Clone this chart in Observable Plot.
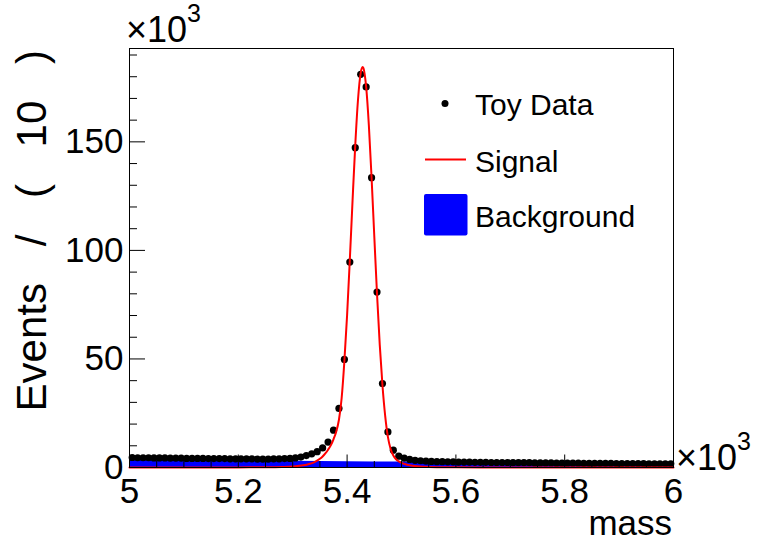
<!DOCTYPE html>
<html><head><meta charset="utf-8">
<script src="https://cdn.jsdelivr.net/npm/d3@7"></script>
<script src="https://cdn.jsdelivr.net/npm/@observablehq/plot@0.6"></script>
<style>
body{margin:0;background:#fff;}
#wrap{position:relative;width:763px;height:550px;}
</style></head><body><div id="wrap"></div>
<script>
// mass in units of 10^3, events in units of 10^3
const binStart = 5.005, binWidth = 0.01;
const toyData = [
  4.6,4.5,4.5,4.5,4.4,4.4,4.4,4.3,4.3,4.3,
  4.2,4.2,4.2,4.2,4.1,4.1,4.1,4.1,4.0,4.0,
  4.0,4.0,4.0,3.9,3.9,3.9,4.0,4.0,4.1,4.2,
  4.4,4.8,5.5,6.3,7.3,9.0,11.7,17.2,27.2,49.8,
  94.6,147.3,181.1,175.3,133.5,80.8,38.7,16.4,8.0,5.2,
  4.3,3.7,3.3,3.1,2.9,2.8,2.7,2.7,2.6,2.6,
  2.5,2.5,2.5,2.4,2.4,2.4,2.3,2.3,2.3,2.3,
  2.2,2.2,2.2,2.2,2.1,2.1,2.1,2.1,2.0,2.0,
  2.0,2.0,2.0,1.9,1.9,1.9,1.9,1.9,1.9,1.8,
  1.8,1.8,1.8,1.8,1.8,1.7,1.7,1.7,1.7,1.7
];
const signalMass = [5.0,5.1,5.2,5.25,5.28,5.3,5.32,5.33,5.34,5.35,5.355,5.36,5.365,5.37,5.375,5.38,5.385,5.39,5.395,5.4,5.405,5.41,5.415,5.42,5.425,5.4285,5.43,5.435,5.44,5.445,5.45,5.455,5.46,5.465,5.47,5.475,5.48,5.485,5.49,5.495,5.5,5.51,5.52,5.54,5.57,5.6,5.7,6.0];
const signalVals = [0,0.01,0.05,0.12,0.25,0.45,1.0,1.6,2.5,4.0,5.1,6.5,8.2,10.2,13.0,16.5,22.0,32.0,49.0,70.2,95.7,122.8,148.5,169.3,181.8,184.5,184.0,175.4,157.6,133.4,106.4,79.9,56.6,37.9,23.8,14.1,8.5,5.5,3.8,2.8,2.1,1.3,0.8,0.35,0.15,0.08,0.02,0];
const bkgMass = [5.0,5.1,5.2,5.3,5.4,5.5,5.6,5.7,5.8,5.9,6.0];
const bkgVals = [3.45,3.23,3.03,2.84,2.67,2.50,2.35,2.20,2.07,1.94,1.82];
const xTicks = [5,5.2,5.4,5.6,5.8,6];
const xMinor = [5.05,5.1,5.15,5.25,5.3,5.35,5.45,5.5,5.55,5.65,5.7,5.75,5.85,5.9,5.95];
const yTicks = [0,50,100,150];
const yMinor = [10,20,30,40,60,70,80,90,110,120,130,140,160,170,180,190];
const legendLabels = ["Toy Data","Signal","Background"];

const FONT = "'Liberation Sans', Arial, Helvetica, sans-serif";
const data = toyData.map((n,i)=>({mass: binStart + i*binWidth, n}));
const sig = signalMass.map((m,i)=>({mass:m, n:signalVals[i]}));
const bkg = bkgMass.map((m,i)=>({mass:m, n:bkgVals[i]}));

const plot = Plot.plot({
  width:763, height:550,
  marginLeft:129, marginRight:90, marginTop:48, marginBottom:83,
  x:{domain:[5,6]}, y:{domain:[0,193]},
  style:{fontFamily:FONT, background:"white", color:"black"},
  marks:[
    Plot.areaY(bkg,{x:"mass",y:"n",fill:"#0000ff",curve:"monotone-x"}),
    Plot.dot(data,{x:"mass",y:"n",r:3.6,fill:"black",stroke:"none"}),
    Plot.line(sig,{x:"mass",y:"n",stroke:"#ff0000",strokeWidth:2,curve:"monotone-x"}),
    Plot.frame({stroke:"black",strokeWidth:1}),
    Plot.axisY(yTicks,{anchor:"left",tickSize:-16,tickFormat:()=>"",label:null}),
    Plot.axisY(yMinor,{anchor:"left",tickSize:-8,tickFormat:()=>"",label:null}),
    Plot.axisY(yTicks,{anchor:"left",tickSize:0,tickPadding:6,fontSize:35,label:null}),
    Plot.axisX(xTicks,{anchor:"bottom",tickSize:-12.5,tickFormat:()=>"",label:null}),
    Plot.axisX(xMinor,{anchor:"bottom",tickSize:-6,tickFormat:()=>"",label:null}),
    Plot.axisX(xTicks,{anchor:"bottom",tickSize:0,tickPadding:11,fontSize:35,label:null,tickFormat:d=>String(d)})
  ]
});
document.getElementById("wrap").appendChild(plot);

const svg = d3.select(plot);
// axis titles
svg.append("text").attr("transform","translate(46,50) rotate(-90)")
  .attr("text-anchor","end").attr("font-size",42).attr("font-family",FONT)
  .style("word-spacing","25px").style("white-space","pre")
  .text("Events / ( 10 )");
svg.append("text").attr("x",672).attr("y",535).attr("text-anchor","end")
  .attr("font-size",35).attr("font-family",FONT).text("mass");
// exponent labels
function expo(x,y,sup){
  const t = svg.append("text").attr("x",x).attr("y",y).attr("text-anchor","start")
    .attr("font-size",36).attr("font-family",FONT);
  t.append("tspan").text("\u00d710");
  t.append("tspan").attr("dy",sup).attr("font-size",25).text("3");
}
expo(126,42,-20);
expo(676,470,-20);
// legend
const lg = svg.append("g").attr("font-family",FONT).attr("font-size",30).attr("text-anchor","start");
lg.append("circle").attr("cx",445).attr("cy",103.5).attr("r",3.5).attr("fill","black");
lg.append("line").attr("x1",425).attr("x2",466).attr("y1",159.5).attr("y2",159.5).attr("stroke","#ff0000").attr("stroke-width",2);
lg.append("rect").attr("x",424).attr("y",194).attr("width",43.5).attr("height",41.5).attr("rx",2).attr("fill","#0000ff");
lg.append("text").attr("x",475).attr("y",115).text(legendLabels[0]);
lg.append("text").attr("x",475).attr("y",171.5).text(legendLabels[1]);
lg.append("text").attr("x",475).attr("y",226.5).text(legendLabels[2]);
</script></body></html>
